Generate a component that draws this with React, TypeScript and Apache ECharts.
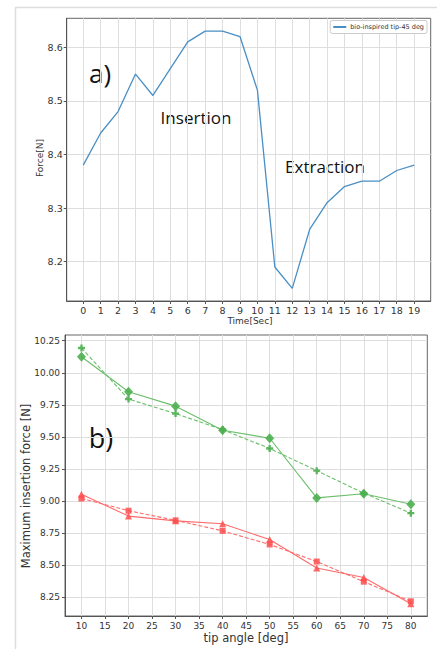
import React, { useEffect, useRef } from "react";
import * as echarts from "echarts";

// ---- Panel a) data ----
const timeSec = [0, 1, 2, 3, 4, 5, 6, 7, 8, 9, 10, 11, 12, 13, 14, 15, 16, 17, 18, 19];
const forceN = [8.38, 8.44, 8.48, 8.55, 8.51, 8.56, 8.61, 8.63, 8.63, 8.62, 8.52, 8.19, 8.15, 8.26, 8.31, 8.34, 8.35, 8.35, 8.37, 8.38];
const yTicksA = [8.2, 8.3, 8.4, 8.5, 8.6];

// ---- Panel b) data ----
const tipAngle = [10, 20, 30, 40, 50, 60, 70, 80];
const greenSolid = [10.125, 9.852, 9.74, 9.552, 9.49, 9.025, 9.057, 8.975];
const greenDashed = [10.193, 9.795, 9.682, 9.557, 9.41, 9.237, 9.062, 8.906];
const redSolid = [9.053, 8.883, 8.846, 8.823, 8.7, 8.478, 8.404, 8.2];
const redDashed = [9.02, 8.925, 8.85, 8.768, 8.662, 8.529, 8.372, 8.219];
const xTicksB = [10, 15, 20, 25, 30, 35, 40, 45, 50, 55, 60, 65, 70, 75, 80];
const yTicksB = [8.25, 8.5, 8.75, 9.0, 9.25, 9.5, 9.75, 10.0, 10.25];

const pair = (xs: number[], ys: number[]) => xs.map((x, i) => [x, ys[i]]);

const PLUS = "path://M2,0H4V2H6V4H4V6H2V4H0V2H2Z";

export default function App() {
  const ref = useRef<HTMLDivElement>(null);
  useEffect(() => {
    if (!ref.current) return;
    const chart = echarts.init(ref.current, undefined, { renderer: "svg" });
    const tickFont = "DejaVu Sans";
    const splitLine = { show: true, lineStyle: { color: "#dedede", width: 1 } };
    const axisLine = { show: true, onZero: false, lineStyle: { color: "#555", width: 1 } };
    const axisTick = (vals: number[]) => ({ show: true, length: 3, lineStyle: { color: "#555" }, customValues: vals });
    const green = "#4caf50";
    const red = "#ff4d4d";
    chart.setOption({
      animation: false,
      backgroundColor: "#ffffff",
      grid: [
        { left: 66.7, top: 18.3, width: 364, height: 282.7, show: true, borderColor: "#666", borderWidth: 1, backgroundColor: "transparent" },
        { left: 65, top: 335, width: 362.3, height: 281, show: true, borderColor: "#666", borderWidth: 1, backgroundColor: "transparent" },
      ],
      legend: {
        data: ["bio-inspired tip-45 deg"],
        right: 15,
        top: 20.5,
        orient: "vertical",
        itemWidth: 13,
        itemHeight: 2,
        itemGap: 2,
        padding: [3, 3, 3, 3],
        borderColor: "#ccc",
        borderWidth: 1,
        borderRadius: 2,
        backgroundColor: "#fff",
        icon: "rect",
        textStyle: { fontSize: 6.5, fontFamily: tickFont, color: "#333", padding: [0, 0, 0, -1] },
      },
      xAxis: [
        {
          type: "value", gridIndex: 0, min: -0.95, max: 19.95,
          axisLine, axisTick: axisTick(timeSec), splitLine,
          axisLabel: { customValues: timeSec, fontSize: 9.5, fontFamily: tickFont, color: "#333", margin: 4 },
        },
        {
          type: "value", gridIndex: 1, min: 6.5, max: 83.5,
          axisLine, axisTick: axisTick(xTicksB), splitLine,
          axisLabel: { customValues: xTicksB, fontSize: 9, fontFamily: tickFont, color: "#333", margin: 5 },
        },
      ],
      yAxis: [
        {
          type: "value", gridIndex: 0, min: 8.1265, max: 8.654,
          axisLine, axisTick: axisTick(yTicksA), splitLine,
          axisLabel: { customValues: yTicksA, fontSize: 9.5, fontFamily: tickFont, color: "#333", margin: 4, formatter: (v: number) => v.toFixed(1) },
        },
        {
          type: "value", gridIndex: 1, min: 8.1045, max: 10.2945,
          axisLine, axisTick: axisTick(yTicksB), splitLine,
          axisLabel: { customValues: yTicksB, fontSize: 9, fontFamily: tickFont, color: "#333", margin: 5, formatter: (v: number) => v.toFixed(2) },
        },
      ],
      series: [
        {
          name: "bio-inspired tip-45 deg", type: "line", xAxisIndex: 0, yAxisIndex: 0,
          data: pair(timeSec, forceN), showSymbol: false, symbol: "none",
          lineStyle: { color: "#4a8fc4", width: 1.3 }, itemStyle: { color: "#4a8fc4" },
        },
        {
          name: "g1", type: "line", xAxisIndex: 1, yAxisIndex: 1, data: pair(tipAngle, greenSolid),
          symbol: "diamond", symbolSize: [9, 10], lineStyle: { color: "#6cbf6c", width: 1.1 },
          itemStyle: { color: green, opacity: 0.9 },
        },
        {
          name: "g2", type: "line", xAxisIndex: 1, yAxisIndex: 1, data: pair(tipAngle, greenDashed),
          symbol: PLUS, symbolSize: 7, lineStyle: { color: "#6cbf6c", width: 1.1, type: [4, 2] },
          itemStyle: { color: green, opacity: 0.9 },
        },
        {
          name: "r1", type: "line", xAxisIndex: 1, yAxisIndex: 1, data: pair(tipAngle, redSolid),
          symbol: "triangle", symbolSize: 7, lineStyle: { color: "#ff6b6b", width: 1.1 },
          itemStyle: { color: red, opacity: 0.85 },
        },
        {
          name: "r2", type: "line", xAxisIndex: 1, yAxisIndex: 1, data: pair(tipAngle, redDashed),
          symbol: "rect", symbolSize: 6, lineStyle: { color: "#ff6b6b", width: 1.1, type: [4, 2] },
          itemStyle: { color: red, opacity: 0.85 },
        },
      ],
      graphic: [
        { type: "line", shape: { x1: 15.5, y1: 7.5, x2: 15.5, y2: 649 }, style: { stroke: "#dddddd", lineWidth: 1.5 } },
        { type: "line", shape: { x1: 15, y1: 7.5, x2: 437, y2: 7.5 }, style: { stroke: "#dddddd", lineWidth: 1.5 } },
        { type: "text", x: 100, y: 73, style: { text: "a)", fontSize: 26, fontFamily: "Open Sans", fill: "#111", align: "center", verticalAlign: "middle" } },
        { type: "text", x: 196, y: 117, style: { text: "Insertion", fontSize: 17, fontFamily: "Open Sans", fill: "#111", align: "center", verticalAlign: "middle" } },
        { type: "text", x: 325, y: 166, style: { text: "Extraction", fontSize: 17, fontFamily: "Open Sans", fill: "#111", align: "center", verticalAlign: "middle" } },
        { type: "text", x: 101, y: 437, style: { text: "b)", fontSize: 27, fontFamily: "Open Sans", fill: "#111", align: "center", verticalAlign: "middle" } },
        { type: "text", x: 40, y: 158, rotation: Math.PI / 2, style: { text: "Force[N]", fontSize: 9, fontFamily: tickFont, fill: "#333", align: "center", verticalAlign: "middle" } },
        { type: "text", x: 250, y: 320.5, style: { text: "Time[Sec]", fontSize: 9, fontFamily: tickFont, fill: "#333", align: "center", verticalAlign: "middle" } },
        { type: "text", x: 25.7, y: 486, rotation: Math.PI / 2, style: { text: "Maximum insertion force [N]", fontSize: 11.5, fontFamily: tickFont, fill: "#333", align: "center", verticalAlign: "middle" } },
        { type: "text", x: 246, y: 637.5, style: { text: "tip angle [deg]", fontSize: 11.5, fontFamily: tickFont, fill: "#333", align: "center", verticalAlign: "middle" } },
      ],
    });
    return () => chart.dispose();
  }, []);
  return <div ref={ref} style={{ position: "fixed", left: 0, top: 0, width: 442, height: 649 }} />;
}
